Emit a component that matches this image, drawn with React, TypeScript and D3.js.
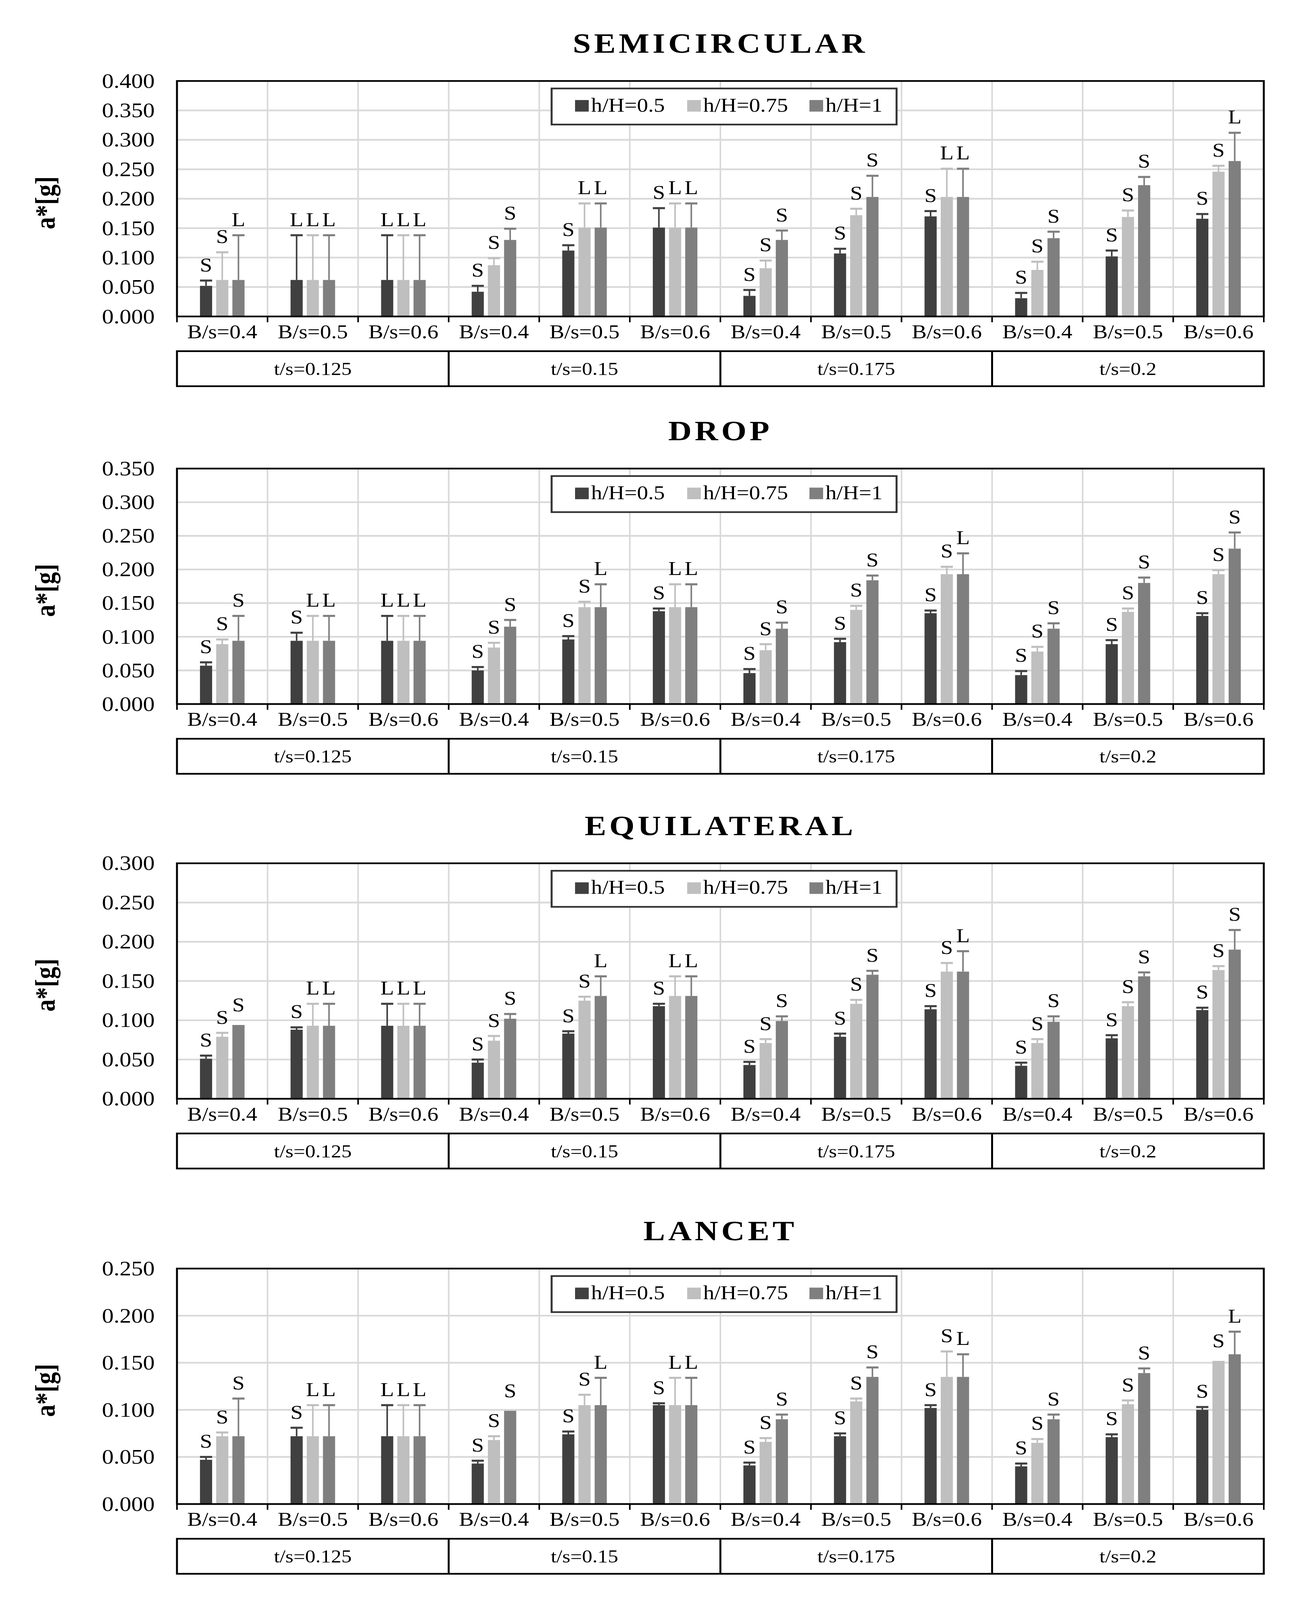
import React from 'react';
import * as d3 from 'd3';

// category and series names
const BS_LABELS = ['B/s=0.4', 'B/s=0.5', 'B/s=0.6'];
const TS_LABELS = ['t/s=0.125', 't/s=0.15', 't/s=0.175', 't/s=0.2'];
const SERIES = ['h/H=0.5', 'h/H=0.75', 'h/H=1'];
const COLORS = ['#404040', '#bfbfbf', '#7f7f7f'];

// SEMICIRCULAR
const semi05 = [0.052, 0.062, 0.062, 0.042, 0.112, 0.151, 0.035, 0.107, 0.170, 0.031, 0.102, 0.166];
const semi075 = [0.062, 0.062, 0.062, 0.087, 0.151, 0.151, 0.082, 0.172, 0.203, 0.079, 0.169, 0.246];
const semi1 = [0.062, 0.062, 0.062, 0.130, 0.151, 0.151, 0.130, 0.203, 0.203, 0.133, 0.223, 0.264];
const semiSd05 = [0.009, 0.076, 0.076, 0.010, 0.009, 0.033, 0.010, 0.008, 0.009, 0.009, 0.010, 0.008];
const semiSd075 = [0.047, 0.076, 0.076, 0.012, 0.041, 0.041, 0.013, 0.011, 0.048, 0.014, 0.011, 0.010];
const semiSd1 = [0.076, 0.076, 0.076, 0.019, 0.041, 0.041, 0.016, 0.036, 0.048, 0.011, 0.014, 0.048];
const semiSig05 = ['S', 'L', 'L', 'S', 'S', 'S', 'S', 'S', 'S', 'S', 'S', 'S'];
const semiSig075 = ['S', 'L', 'L', 'S', 'L', 'L', 'S', 'S', 'L', 'S', 'S', 'S'];
const semiSig1 = ['L', 'L', 'L', 'S', 'L', 'L', 'S', 'S', 'L', 'S', 'S', 'L'];

// DROP
const drop05 = [0.057, 0.094, 0.094, 0.050, 0.096, 0.138, 0.046, 0.092, 0.135, 0.043, 0.089, 0.131];
const drop075 = [0.089, 0.094, 0.094, 0.084, 0.144, 0.144, 0.080, 0.140, 0.193, 0.078, 0.137, 0.193];
const drop1 = [0.094, 0.094, 0.094, 0.115, 0.144, 0.144, 0.112, 0.184, 0.193, 0.112, 0.180, 0.231];
const dropSd05 = [0.005, 0.012, 0.037, 0.005, 0.005, 0.004, 0.006, 0.005, 0.004, 0.006, 0.006, 0.004];
const dropSd075 = [0.007, 0.037, 0.037, 0.007, 0.008, 0.034, 0.009, 0.006, 0.011, 0.007, 0.005, 0.006];
const dropSd1 = [0.037, 0.037, 0.037, 0.010, 0.034, 0.034, 0.009, 0.007, 0.031, 0.008, 0.008, 0.024];
const dropSig05 = ['S', 'S', 'L', 'S', 'S', 'S', 'S', 'S', 'S', 'S', 'S', 'S'];
const dropSig075 = ['S', 'L', 'L', 'S', 'S', 'L', 'S', 'S', 'S', 'S', 'S', 'S'];
const dropSig1 = ['S', 'L', 'L', 'S', 'L', 'L', 'S', 'S', 'L', 'S', 'S', 'S'];

// EQUILATERAL
const equi05 = [0.051, 0.088, 0.093, 0.046, 0.083, 0.118, 0.043, 0.079, 0.114, 0.042, 0.077, 0.113];
const equi075 = [0.079, 0.093, 0.093, 0.074, 0.125, 0.131, 0.071, 0.121, 0.162, 0.071, 0.118, 0.164];
const equi1 = [0.094, 0.093, 0.093, 0.102, 0.131, 0.131, 0.099, 0.158, 0.162, 0.098, 0.156, 0.190];
const equiSd05 = [0.004, 0.003, 0.028, 0.004, 0.003, 0.003, 0.004, 0.004, 0.004, 0.004, 0.004, 0.003];
const equiSd075 = [0.005, 0.028, 0.028, 0.006, 0.005, 0.025, 0.005, 0.005, 0.011, 0.005, 0.005, 0.005];
const equiSd1 = [0.0, 0.028, 0.028, 0.006, 0.025, 0.025, 0.006, 0.005, 0.026, 0.007, 0.005, 0.025];
const equiSig05 = ['S', 'S', 'L', 'S', 'S', 'S', 'S', 'S', 'S', 'S', 'S', 'S'];
const equiSig075 = ['S', 'L', 'L', 'S', 'S', 'L', 'S', 'S', 'S', 'S', 'S', 'S'];
const equiSig1 = ['S', 'L', 'L', 'S', 'L', 'L', 'S', 'S', 'L', 'S', 'S', 'S'];

// LANCET
const lanc05 = [0.047, 0.072, 0.072, 0.043, 0.074, 0.105, 0.041, 0.072, 0.102, 0.040, 0.071, 0.100];
const lanc075 = [0.072, 0.072, 0.072, 0.068, 0.105, 0.105, 0.066, 0.109, 0.135, 0.065, 0.106, 0.152];
const lanc1 = [0.072, 0.072, 0.072, 0.099, 0.105, 0.105, 0.090, 0.135, 0.135, 0.090, 0.139, 0.159];
const lancSd05 = [0.003, 0.009, 0.033, 0.003, 0.003, 0.002, 0.003, 0.003, 0.003, 0.003, 0.003, 0.003];
const lancSd075 = [0.004, 0.033, 0.033, 0.004, 0.011, 0.029, 0.004, 0.003, 0.027, 0.004, 0.004, 0.0];
const lancSd1 = [0.040, 0.033, 0.033, 0.0, 0.029, 0.029, 0.005, 0.010, 0.024, 0.005, 0.005, 0.024];
const lancSig05 = ['S', 'S', 'L', 'S', 'S', 'S', 'S', 'S', 'S', 'S', 'S', 'S'];
const lancSig075 = ['S', 'L', 'L', 'S', 'S', 'L', 'S', 'S', 'S', 'S', 'S', 'S'];
const lancSig1 = ['S', 'L', 'L', 'S', 'L', 'L', 'S', 'S', 'L', 'S', 'S', 'L'];

const panels = [
  { title: 'SEMICIRCULAR', yMax: 0.4, means: [semi05, semi075, semi1], sds: [semiSd05, semiSd075, semiSd1], sig: [semiSig05, semiSig075, semiSig1] },
  { title: 'DROP', yMax: 0.35, means: [drop05, drop075, drop1], sds: [dropSd05, dropSd075, dropSd1], sig: [dropSig05, dropSig075, dropSig1] },
  { title: 'EQUILATERAL', yMax: 0.3, means: [equi05, equi075, equi1], sds: [equiSd05, equiSd075, equiSd1], sig: [equiSig05, equiSig075, equiSig1] },
  { title: 'LANCET', yMax: 0.25, means: [lanc05, lanc075, lanc1], sds: [lancSd05, lancSd075, lancSd1], sig: [lancSig05, lancSig075, lancSig1] },
];

const W = 3320;
const HT = 4702;
const LEFT = 453;
const RIGHT = 3235;
const PH = 692;
const TOPS = [238, 1377, 2537, 3728];
const FONT = '"Liberation Serif", "Times New Roman", serif';
const fmt = d3.format('.3f');

const categories = TS_LABELS.flatMap((t) => BS_LABELS.map((b) => `${t}|${b}`));

function Panel({ p, top }: { p: any; top: number }) {
  const bottom = top + PH;
  const y = d3.scaleLinear().domain([0, p.yMax]).range([bottom, top]);
  const x0 = d3.scaleBand().domain(categories).range([LEFT, RIGHT]);
  const x1 = d3.scaleBand().domain(SERIES).range([0, x0.bandwidth()]).paddingInner(0.25).paddingOuter(1.42);
  const ticks = d3.range(0, p.yMax + 1e-9, 0.05);
  const bounds = d3.range(categories.length + 1).map((i) => LEFT + i * x0.bandwidth());
  const gw = x0.bandwidth() * BS_LABELS.length;
  const bw = x1.bandwidth();

  return (
    <g>
      <text x={(LEFT + RIGHT) / 2} y={top - 83} textAnchor="middle" fontFamily={FONT} fontWeight="bold"
        fontSize={83} letterSpacing={8}>{p.title}</text>

      {/* grid */}
      {ticks.slice(1, -1).map((t) => (
        <line key={'h' + t} x1={LEFT} x2={RIGHT} y1={y(t)} y2={y(t)} stroke="#d9d9d9" strokeWidth={5} />
      ))}
      {bounds.slice(1, -1).map((bx, i) => (
        <line key={'v' + i} x1={bx} x2={bx} y1={top} y2={bottom} stroke="#d9d9d9" strokeWidth={4} />
      ))}

      {/* bars, error bars, significance letters */}
      {categories.map((c, ci) => (
        <g key={c} transform={`translate(${x0(c)},0)`}>
          {SERIES.map((s, si) => {
            const m = p.means[si][ci];
            const capV = m + p.sds[si][ci];
            const bx = x1(s) as number;
            const cx = bx + bw / 2;
            return (
              <g key={s}>
                <rect x={bx} y={y(m)} width={bw} height={bottom - y(m)} fill={COLORS[si]} />
                {p.sds[si][ci] > 0 && (
                  <g stroke={COLORS[si]}>
                    <line x1={cx} x2={cx} y1={y(m)} y2={y(capV)} strokeWidth={4} />
                    <line x1={bx} x2={bx + bw} y1={y(capV)} y2={y(capV)} strokeWidth={6} />
                  </g>
                )}
                <text x={cx} y={y(capV) - (p.sds[si][ci] > 0 ? 27 : 40)} textAnchor="middle" fontFamily={FONT}
                  fontSize={57}>{p.sig[si][ci]}</text>
              </g>
            );
          })}
        </g>
      ))}

      {/* frame */}
      <rect x={LEFT} y={top} width={RIGHT - LEFT} height={PH} fill="none" stroke="#000" strokeWidth={5} />
      {bounds.map((bx, i) => (
        <line key={'t' + i} x1={bx} x2={bx} y1={bottom} y2={bottom + 17} stroke="#000" strokeWidth={4} />
      ))}

      {/* y ticks */}
      {ticks.map((t) => (
        <text key={'yl' + t} x={396} y={y(t) + 20} textAnchor="end" fontFamily={FONT} fontSize={60}>{fmt(t)}</text>
      ))}
      <text transform={`translate(140,${(top + bottom) / 2 + 12}) rotate(-90)`} textAnchor="middle"
        fontFamily={FONT} fontWeight="bold" fontSize={72}>a*[g]</text>

      {/* x category labels */}
      {categories.map((c) => (
        <text key={'xl' + c} x={(x0(c) as number) + x0.bandwidth() / 2} y={bottom + 64} textAnchor="middle"
          fontFamily={FONT} fontSize={57}>{c.split('|')[1]}</text>
      ))}

      {/* group box */}
      <rect x={LEFT} y={bottom + 102} width={RIGHT - LEFT} height={103} fill="none" stroke="#000" strokeWidth={5} />
      {TS_LABELS.map((t, gi) => (
        <g key={t}>
          {gi > 0 && <line x1={LEFT + gi * gw} x2={LEFT + gi * gw} y1={bottom + 102} y2={bottom + 205} stroke="#000" strokeWidth={5} />}
          <text x={LEFT + gi * gw + gw / 2} y={bottom + 172} textAnchor="middle" fontFamily={FONT} fontSize={53}>{t}</text>
        </g>
      ))}

      {/* legend */}
      <rect x={1412} y={top + 22} width={883} height={106} fill="#fff" stroke="#333" strokeWidth={5} />
      {SERIES.map((s, si) => {
        const lx = [1472, 1759, 2072][si];
        return (
          <g key={'lg' + s}>
            <rect x={lx} y={top + 56} width={35} height={34} fill={COLORS[si]} />
            <text x={lx + 41} y={top + 90} fontFamily={FONT} fontSize={57}>{s}</text>
          </g>
        );
      })}
    </g>
  );
}

export default function App() {
  // the drawing is laid out in 3320x4702 units and stretched to whatever the window shows
  return (
    <div style={{ position: 'fixed', left: 0, top: 0, width: '100vw', height: '100vh', overflow: 'hidden', background: '#fff' }}>
      <svg width="100%" height="100%" viewBox={`0 0 ${W} ${HT}`} preserveAspectRatio="none" style={{ display: 'block' }}>
        <rect width={W} height={HT} fill="#fff" />
        {panels.map((p, i) => (
          <Panel key={p.title} p={p} top={TOPS[i]} />
        ))}
      </svg>
    </div>
  );
}
